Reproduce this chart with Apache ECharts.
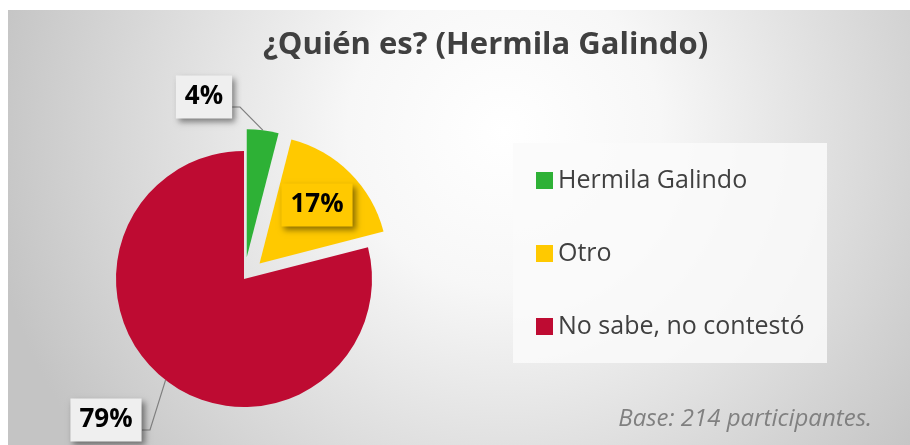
<!DOCTYPE html>
<html>
<head>
<meta charset="utf-8">
<script src="https://cdn.jsdelivr.net/npm/echarts@6/dist/echarts.min.js"></script>
<style>
  html, body { margin: 0; padding: 0; background: #ffffff; }
  #chart { width: 910px; height: 445px; }
</style>
</head>
<body>
<div id="chart"></div>
<script>
// datos de la encuesta
const categorias = ['Hermila Galindo', 'Otro', 'No sabe, no contestó']
const porcentajes = [4, 17, 79]
const colores = ['#2eb136', '#ffc900', '#be0b32']
const explosion = [22, 22, 0] // desplazamiento de cada rebanada (px)
const fondoEtiquetas = ['#efefef', '#ffc900', '#efefef']

// posicion de las etiquetas (centro) y codo de la linea guia
const etiquetaPos = [
  { x: 204, y: 97, codo: [[240, 107], [232, 107]] },
  { x: 317, y: 205, codo: null },
  { x: 106, y: 420, codo: [[150, 430], [142, 430]] }
]

const centroPie = [244, 279]
const radioPie = 128

// centro desplazado a lo largo del angulo medio de la rebanada
function centroDe(i) {
  let acum = 0
  for (let k = 0; k < i; k++) acum += porcentajes[k]
  const ang = (acum + porcentajes[i] / 2) / 100 * 2 * Math.PI
  return [
    centroPie[0] + explosion[i] * Math.sin(ang),
    centroPie[1] - explosion[i] * Math.cos(ang)
  ]
}

const chart = echarts.init(document.getElementById('chart'))

// una serie por rebanada para poder separarlas como en el original
const series = categorias.map((_, s) => ({
  type: 'pie',
  center: centroDe(s),
  radius: radioPie,
  startAngle: 90,
  avoidLabelOverlap: false,
  emphasis: { disabled: true },
  silent: true,
  data: categorias.map((name, i) => ({
    name: name,
    value: porcentajes[i],
    itemStyle: { color: i === s ? colores[i] : 'rgba(0,0,0,0)' },
    label: { show: i === s, backgroundColor: fondoEtiquetas[i] },
    labelLine: { show: i === s && etiquetaPos[i].codo !== null }
  })),
  label: {
    formatter: '{c}%',
    fontFamily: 'Open Sans',
    fontWeight: 'bold',
    fontSize: 26,
    lineHeight: 32,
    color: '#000000',
    padding: [6, 9, 5, 9],
    shadowColor: 'rgba(0,0,0,0.45)',
    shadowBlur: 6,
    shadowOffsetX: 3,
    shadowOffsetY: 3
  },
  labelLine: {
    lineStyle: { color: '#7f7f7f', width: 1.2 }
  },
  labelLayout: function (params) {
    const p = etiquetaPos[params.dataIndex]
    const res = { x: p.x, y: p.y, align: 'center', verticalAlign: 'middle' }
    if (p.codo && params.labelLinePoints) {
      res.labelLinePoints = [params.labelLinePoints[0]].concat(p.codo)
    }
    return res
  }
}))

chart.setOption({
  animation: false,
  graphic: [
    {
      type: 'rect',
      z: -10,
      silent: true,
      shape: { x: 8, y: 10, width: 902, height: 435 },
      style: {
        fill: {
          type: 'radial', x: 0.55, y: 0.28, r: 1.2,
          colorStops: [
            { offset: 0, color: '#ffffff' },
            { offset: 0.3, color: '#f7f7f7' },
            { offset: 1, color: '#c4c4c4' }
          ]
        }
      }
    },
    {
      type: 'rect',
      z: -5,
      silent: true,
      shape: { x: 513, y: 143, width: 314, height: 220 },
      style: { fill: 'rgba(250,250,250,0.85)' }
    }
  ],
  title: [
    {
      text: '¿Quién es? (Hermila Galindo)',
      left: 258,
      top: 25,
      textStyle: {
        fontFamily: 'Open Sans',
        fontWeight: 'bold',
        fontSize: 31,
        color: '#404040'
      }
    },
    {
      text: 'Base: 214 participantes.',
      right: 33,
      top: 402,
      textStyle: {
        fontFamily: 'Open Sans',
        fontStyle: 'italic',
        fontWeight: 'normal',
        fontSize: 24,
        color: '#808080'
      }
    }
  ],
  legend: {
    orient: 'vertical',
    left: 531,
    top: 163,
    itemWidth: 17,
    itemHeight: 17,
    itemGap: 48,
    icon: 'rect',
    data: categorias.map((name, i) => ({ name: name, itemStyle: { color: colores[i] } })),
    textStyle: {
      fontFamily: 'Open Sans',
      fontSize: 25,
      color: '#404040'
    }
  },
  series: series
})
</script>
</body>
</html>
